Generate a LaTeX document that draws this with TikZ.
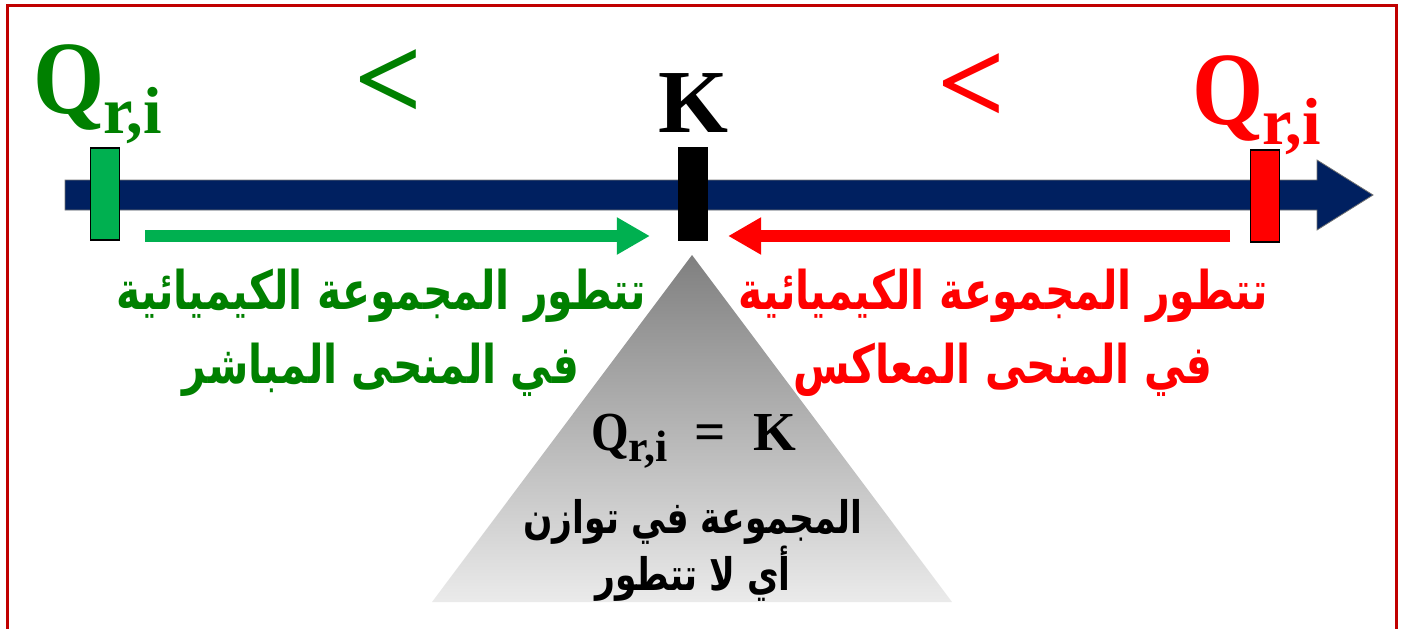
\documentclass[tikz,border=0pt]{standalone}
\usepackage{fontspec}
\setmainfont{Liberation Serif}
\newfontfamily\arabicfont[Script=Arabic]{DejaVu Sans}
\TeXXeTstate=1
\usetikzlibrary{arrows.meta}
\definecolor{navyaxis}{HTML}{002060}
\definecolor{qgreen}{HTML}{00B050}
\definecolor{txtgreen}{HTML}{008000}
\definecolor{framered}{HTML}{C00000}
\newcommand{\Qri}[1][0.64]{\scalebox{0.88}[1]{Q}\kern-0.01em\raisebox{-0.2em}{\scalebox{#1}{r,i}}}
\newcommand{\arline}[1]{\scalebox{1}[1.3]{\beginR #1\endR}}

\begin{document}
\begin{tikzpicture}[x=1pt, y=-1pt,
  bar/.style={draw=black, line width=1.2pt, minimum width=29pt, minimum height=92pt, inner sep=0pt},
  flow/.style={line width=12pt, -{Triangle[length=33pt,width=35pt]}},
  bigq/.style={font=\fontsize{104}{110}\selectfont\bfseries, inner sep=0pt},
  sign/.style={font=\fontsize{120}{125}\selectfont\bfseries, inner sep=0pt},
  arab/.style={font=\arabicfont\bfseries\fontsize{41}{74}\selectfont, align=center, inner sep=0pt}]

\useasboundingbox (0,0) rectangle (1403,629);
\draw[framered, line width=3pt] (7,5) rectangle (1396,680);
\shade[top color=black!50, bottom color=black!8] (692,255) -- (952,602) -- (432,602) -- cycle;
\filldraw[navyaxis, draw=black!55, line width=0.8pt] (65,180) -- (1317,180) -- (1317,160) -- (1373,195) -- (1317,230) -- (1317,210) -- (65,210) -- cycle;

\node[bar, fill=qgreen] (gbar) at (105,194) {};
\node[bar, fill=black] (kbar) at (693,194) {};
\node[bar, fill=red] (rbar) at (1265,196) {};

\node[bigq, txtgreen, anchor=base west] (gq) at (33,113) {\Qri};
\node[bigq, red, anchor=base west] (rq) at (1192,124) {\Qri};
\node[bigq, anchor=base, font=\fontsize{90}{94}\selectfont\bfseries] (k) at (693,132) {K};
\node[sign, txtgreen] (gless) at (389,85) {<};
\node[sign, red] (rless) at (972,89) {<};

\coordinate (gstart) at (145,236);
\coordinate (rstart) at (1230,236);
\draw[flow, qgreen, shorten >=28pt] (gstart) -- (kbar.west |- gstart);
\draw[flow, red, shorten >=20pt] (rstart) -- (kbar.east |- rstart);

\node[arab, txtgreen] (gtext) at (381,333) {\arline{تتطور المجموعة الكيميائية}\\ \arline{في المنحى المباشر}};
\node[arab, red] (rtext) at (1003,333) {\arline{تتطور المجموعة الكيميائية}\\ \arline{في المنحى المعاكس}};

\node[anchor=base, font=\fontsize{55}{60}\selectfont\bfseries, inner sep=0pt] (eq) at (694,450) {\Qri[0.8]\ \ =\ \ K};
\node[arab, font=\arabicfont\bfseries\fontsize{34.5}{57}\selectfont] (eqtext) at (693,550) {\arline{المجموعة في توازن}\\ \arline{أي لا تتطور}};
\end{tikzpicture}
\end{document}
